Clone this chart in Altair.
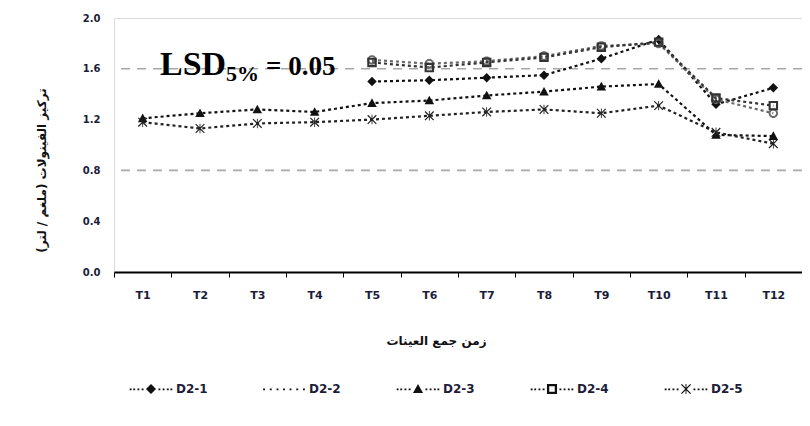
import altair as alt
import pandas as pd

times = ["T1", "T2", "T3", "T4", "T5", "T6", "T7", "T8", "T9", "T10", "T11", "T12"]
series = ["D2-1", "D2-2", "D2-3", "D2-4", "D2-5"]
d2_1 = [None, None, None, None, 1.50, 1.51, 1.53, 1.55, 1.68, 1.83, 1.32, 1.45]
d2_2 = [None, None, None, None, 1.67, 1.64, 1.66, 1.70, 1.78, 1.80, 1.36, 1.25]
d2_3 = [1.21, 1.25, 1.28, 1.26, 1.33, 1.35, 1.39, 1.42, 1.46, 1.48, 1.08, 1.07]
d2_4 = [None, None, None, None, 1.65, 1.61, 1.65, 1.69, 1.77, 1.81, 1.37, 1.31]
d2_5 = [1.18, 1.13, 1.17, 1.18, 1.20, 1.23, 1.26, 1.28, 1.25, 1.31, 1.10, 1.01]
y_labels = [0.0, 0.4, 0.8, 1.2, 1.6, 2.0]
grid_values = [0.8, 1.6]

rows = []
for name, vals in zip(series, [d2_1, d2_2, d2_3, d2_4, d2_5]):
    for t, v in zip(times, vals):
        if v is not None:
            rows.append({"time": t, "series": name, "value": v})
df = pd.DataFrame(rows)
grid_df = pd.DataFrame({"g": grid_values})

# ---- symbol paths (styling) ----
def sq(cx, cy, h):
    return f"M{cx-h:.3f},{cy-h:.3f}L{cx+h:.3f},{cy-h:.3f}L{cx+h:.3f},{cy+h:.3f}L{cx-h:.3f},{cy+h:.3f}Z"

def marker(kind, s=1.0):
    if kind == "diamond":
        return f"M0,{-s}L{s},0L0,{s}L{-s},0Z"
    if kind == "triangle":
        return f"M0,{-s}L{s},{0.8*s}L{-s},{0.8*s}Z"
    if kind == "square":
        i = 0.55 * s
        return (f"M{-s},{-s}L{s},{-s}L{s},{s}L{-s},{s}Z"
                f"M{-i},{-i}L{-i},{i}L{i},{i}L{i},{-i}Z")
    if kind == "star":
        w = 0.18 * s
        return (f"M{-s},{-s+w}L{-s+w},{-s}L{s},{s-w}L{s-w},{s}Z"
                f"M{s-w},{-s}L{s},{-s+w}L{-s+w},{s}L{-s},{s-w}Z"
                f"M{-w/2},{-s}L{w/2},{-s}L{w/2},{s}L{-w/2},{s}Z")
    if kind == "ring":
        i = 0.6 * s
        return (f"M{s},0A{s},{s} 0 1,1 {-s},0A{s},{s} 0 1,1 {s},0Z"
                f"M{i},0A{i},{i} 0 1,0 {-i},0A{i},{i} 0 1,0 {i},0Z")
    return ""

kinds = ["diamond", "ring", "triangle", "square", "star"]
plot_paths = [marker(k) for k in kinds]

def legend_path(kind):
    dots = "".join(sq(x, 0.02, 0.045) + sq(-x, 0.02, 0.045) for x in [0.4, 0.6, 0.8, 0.97])
    return marker(kind, 0.24) + dots

legend_paths = [legend_path(k) for k in kinds]
legend_paths[1] = "".join(sq(x, 0.02, 0.045) for x in [-0.95, -0.63, -0.31, 0.0, 0.31, 0.63, 0.95])

line_colors = ["#111111", "#6a6a6a", "#111111", "#333333", "#222222"]
marker_colors = ["#000000", "#9a9a9a", "#000000", "#111111", "#333333"]

label_color = "#1c1c3a"
x_enc = alt.X("time:N", sort=times, scale=alt.Scale(paddingInner=0, paddingOuter=0),
              axis=alt.Axis(title="زمن جمع العينات", labelAngle=0, labelFont="DejaVu Sans",
                            labelFontWeight="bold", labelFontSize=11, labelColor=label_color,
                            labelPadding=12, domainColor="#000000", domainWidth=2,
                            tickBand="extent", tickSize=5, tickColor="#000000", tickWidth=1,
                            titleFont="DejaVu Sans", titleFontWeight="bold", titleFontSize=12,
                            titleColor="#111111", titleX=322, titleY=63, grid=False))
y_enc = alt.Y("value:Q", scale=alt.Scale(domain=[0, 2], nice=False),
              axis=alt.Axis(title="تركيز الفينولات (ملغم / لتر)", values=y_labels, format=".1f",
                            domain=False, ticks=False, grid=False, labelFont="DejaVu Sans",
                            labelFontWeight="bold", labelFontSize=10, labelColor=label_color,
                            labelPadding=14, titleFont="DejaVu Sans", titleFontWeight="bold",
                            titleFontSize=12, titleColor="#111111", titleX=-66, titleY=152))

base = alt.Chart(df)

grid = alt.Chart(grid_df).mark_rule(color="#a8a8a8", strokeDash=[9, 7], strokeWidth=1.6).encode(
    y=alt.Y("g:Q", scale=alt.Scale(domain=[0, 2], nice=False))
)

lines = base.mark_line(strokeDash=[3, 3], strokeWidth=2.2).encode(
    x=x_enc, y=y_enc,
    detail="series:N",
    color=alt.Color("series:N", scale=alt.Scale(domain=series, range=line_colors), legend=None),
)

points = base.mark_point(filled=True, size=90, opacity=1).encode(
    x=x_enc, y=y_enc,
    shape=alt.Shape("series:N", scale=alt.Scale(domain=series, range=plot_paths), legend=None),
    color=alt.Color("series:N", scale=alt.Scale(domain=series, range=marker_colors), legend=None),
)

legend_layer = base.mark_point(filled=True, opacity=0, color="#111111").encode(
    x=x_enc, y=y_enc,
    shape=alt.Shape("series:N", scale=alt.Scale(domain=series, range=legend_paths),
                    legend=alt.Legend(title=None, orient="none", direction="horizontal",
                                      legendX=16, legendY=350, symbolSize=1764,
                                      symbolFillColor="#111111", symbolStrokeWidth=0,
                                      labelFont="DejaVu Sans", labelFontWeight="bold",
                                      labelFontSize=12, labelColor=label_color,
                                      labelOffset=4, columnPadding=55)),
)

txt_df = pd.DataFrame({"a": ["LSD"], "b": ["5%"], "c": ["= 0.05"]})
t1 = alt.Chart(txt_df).mark_text(font="Liberation Serif", fontWeight="bold", fontSize=34,
                                 align="left", baseline="alphabetic", color="#000000").encode(
    text="a:N", x=alt.value(46), y=alt.value(57))
t2 = alt.Chart(txt_df).mark_text(font="Liberation Serif", fontWeight="bold", fontSize=22,
                                 align="left", baseline="alphabetic", color="#000000").encode(
    text="b:N", x=alt.value(112), y=alt.value(63))
t3 = alt.Chart(txt_df).mark_text(font="Liberation Serif", fontWeight="bold", fontSize=27,
                                 align="left", baseline="alphabetic", color="#000000").encode(
    text="c:N", x=alt.value(152), y=alt.value(57))

chart = alt.layer(grid, lines, points, legend_layer, t1, t2, t3).resolve_scale(
    shape="independent"
).properties(
    width=688, height=254,
    autosize=alt.AutoSizeParams(type="none"),
    padding={"left": 106, "top": 10, "right": 0, "bottom": 140},
).configure_view(stroke=None).configure(background="white")

chart.save("out.html", embed_options={"renderer": "svg", "actions": False})
